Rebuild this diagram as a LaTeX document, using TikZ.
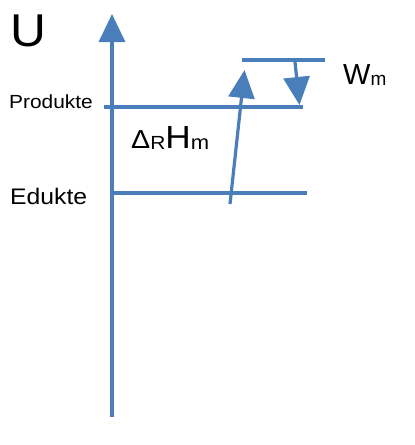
\documentclass[tikz,border=0pt]{standalone}
\usepackage{fontspec}
\setmainfont{Liberation Sans}
\usetikzlibrary{arrows.meta}
\definecolor{lineblue}{HTML}{4A7EBB}
\newcommand{\fs}[1]{\fontsize{#1}{#1}\selectfont}
\begin{document}
\begin{tikzpicture}[x=1pt,y=-1pt,
  level/.style={draw=lineblue,line width=3.2pt},
  arr/.style={draw=lineblue,line width=3.2pt,-{Triangle[width=26pt,length=28pt]}},
  lbl/.style={inner sep=0pt,anchor=base west,text=black}]
\useasboundingbox (0,0) rectangle (415,445);
% coordinates
\coordinate (axB) at (112,417);
\coordinate (axT) at (112,14);
\coordinate (pL) at (104,107);
\coordinate (pR) at (303,107);
\coordinate (eL) at (112,193);
\coordinate (eR) at (307,193);
\coordinate (tL) at (242,60);
\coordinate (tR) at (325,60);
\coordinate (upS) at (230,204);
\coordinate (upE) at (244.5,70);
\coordinate (dnS) at (295,62);
\coordinate (dnE) at (299.5,105);
% lines
\draw[arr] (axB) -- (axT);
\draw[level] (pL) -- (pR);
\draw[level] (eL) -- (eR);
\draw[level] (tL) -- (tR);
\draw[arr] (upS) -- (upE);
\draw[arr] (dnS) -- (dnE);
% labels
\node[lbl] (U) at (10,46) {\scalebox{1.08}[1]{\fs{46}U}};
\node[lbl] (prod) at (9,108.5) {\scalebox{1.1}[1]{\fs{19}Produkte}};
\node[lbl] (edu) at (10,204) {\scalebox{1.1}[1]{\fs{22.5}Edukte}};
\node[lbl] (dh) at (131,148) {\scalebox{1.1}[1]{\fs{26}Δ\raisebox{-1.5pt}{\fs{19}R}\fs{32}H\raisebox{-1pt}{\fs{20}m}}};
\node[lbl] (wm) at (343,84) {\fs{29}W\raisebox{-1pt}{\fs{19}m}};
\end{tikzpicture}
\end{document}
